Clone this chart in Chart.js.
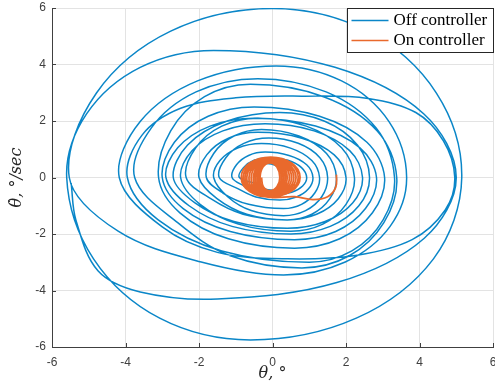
<!DOCTYPE html>
<html>
<head>
<meta charset="utf-8">
<script src="https://cdn.jsdelivr.net/npm/chart.js@4"></script>
<style>
  html, body { margin: 0; padding: 0; background: #fff; }
  #phase { display: block; }
</style>
</head>
<body>
<canvas id="phase" width="495" height="390"></canvas>
<script>
// Axis ticks
const thetaTicks = [-6, -4, -2, 0, 2, 4, 6];
const rateTicks = [-6, -4, -2, 0, 2, 4, 6];

// Off controller trajectory (theta in deg, theta-dot in deg/sec), one loop per line,
// spiralling outwards from the centre
const offTheta = [
  -0.5, -0.45, -0.33, -0.15, 0.08, 0.24, 0.3, 0.26, 0.15, 0.0, -0.25, -0.43,
  -0.9, -0.79, -0.5, -0.1, 0.42, 0.79, 0.93, 0.82, 0.52, 0.1, -0.4, -0.77,
  -1.1, -0.98, -0.65, -0.2, 0.45, 0.93, 1.1, 0.98, 0.65, 0.2, -0.45, -0.93,
  -1.45, -1.27, -0.78, -0.1, 0.7, 1.29, 1.5, 1.34, 0.9, 0.3, -0.58, -1.22,
  -1.6, -1.43, -0.95, -0.3, 0.49, 1.07, 1.28, 1.15, 0.79, 0.3, -0.65, -1.35,
  -1.8, -1.6, -1.05, -0.3, 0.72, 1.47, 1.74, 1.56, 1.07, 0.4, -0.7, -1.51,
  -2.0, -1.79, -1.2, -0.4, 0.8, 1.68, 2.0, 1.79, 1.2, 0.4, -0.8, -1.68,
  -2.35, -2.09, -1.38, -0.4, 0.92, 1.88, 2.23, 2.0, 1.37, 0.5, -0.93, -1.97,
  -2.5, -2.19, -1.35, -0.2, 1.13, 2.1, 2.45, 2.18, 1.43, 0.4, -1.05, -2.11,
  -2.7, -2.31, -1.25, 0.2, 1.42, 2.31, 2.64, 2.35, 1.57, 0.5, -1.1, -2.27,
  -2.9, -2.58, -1.7, -0.5, 1.17, 2.38, 2.83, 2.53, 1.72, 0.6, -1.15, -2.43,
  -3.0, -2.67, -1.75, -0.5, 1.28, 2.57, 3.05, 2.72, 1.83, 0.6, -1.2, -2.52,
  -3.1, -2.77, -1.85, -0.6, 1.39, 2.85, 3.38, 3.03, 2.09, 0.8, -1.15, -2.58,
  -3.75, -3.3, -2.08, -0.4, 1.46, 2.82, 3.32, 3.01, 2.16, 1.0, -1.38, -3.11,
  -3.95, -3.55, -2.5, -1.0, 0.8, 2.6, 3.9, 4.65, 4.96, 4.7, 3.8, 2.3, 0.4, -1.5, -3.0,
  -4.17, -3.6, -2.04, 0.1, 1.88, 3.17, 3.65, 3.2, 1.98, 0.3, -1.94, -4.2,
  -5.53, -4.79, -2.77, 0.0, 2.58, 4.46, 5.15, 4.38, 2.28, -0.6, -3.07, -4.87,
  -5.6, -5.06, -3.6, -1.6, 1.7, 4.12, 5.0, 4.13, 1.75, -1.5, -3.6, -4.75, -5.35, -5.48
];
const offRate = [
  0, 0.25, 0.43, 0.5, 0.43, 0.25, 0, -0.23, -0.39, -0.45, -0.39, -0.23,
  0, 0.35, 0.61, 0.7, 0.61, 0.35, 0, -0.3, -0.52, -0.6, -0.52, -0.3,
  0, 0.45, 0.78, 0.9, 0.78, 0.45, 0, -0.4, -0.69, -0.8, -0.69, -0.4,
  0, 0.7, 1.21, 1.4, 1.21, 0.7, 0, -0.68, -1.17, -1.35, -1.17, -0.68,
  0, 0.6, 1.04, 1.2, 1.04, 0.6, 0, -0.55, -0.95, -1.1, -0.95, -0.55,
  0, 0.85, 1.47, 1.7, 1.47, 0.85, 0, -0.75, -1.3, -1.5, -1.3, -0.75,
  0, 0.8, 1.39, 1.6, 1.39, 0.8, 0, -0.75, -1.3, -1.5, -1.3, -0.75,
  0, 1.05, 1.82, 2.1, 1.82, 1.05, 0, -0.95, -1.65, -1.9, -1.65, -0.95,
  0, 0.95, 1.65, 1.9, 1.65, 0.95, 0, -0.9, -1.56, -1.8, -1.56, -0.9,
  0, 1.15, 1.99, 2.3, 1.99, 1.15, 0, -1.0, -1.73, -2.0, -1.73, -1.0,
  0, 1.05, 1.82, 2.1, 1.82, 1.05, 0, -1.1, -1.91, -2.2, -1.91, -1.1,
  0, 1.25, 2.17, 2.5, 2.17, 1.25, 0, -1.25, -2.17, -2.5, -2.17, -1.25,
  0, 1.65, 2.86, 3.3, 2.86, 1.65, 0, -1.6, -2.77, -3.2, -2.77, -1.6,
  0, 1.75, 3.03, 3.5, 3.03, 1.75, 0, -1.5, -2.6, -3.0, -2.6, -1.5,
  0, 1.5, 2.45, 2.82, 2.88, 2.8, 2.3, 1.3, 0, -1.15, -2.2, -2.75, -2.88, -2.65, -1.75,
  0, 1.98, 3.42, 3.95, 3.42, 1.98, 0, -1.73, -2.99, -3.45, -2.99, -1.9,
  0, 2.99, 5.18, 5.98, 5.18, 2.99, 0, -2.88, -4.98, -5.75, -4.98, -2.88,
  0, 2.25, 3.9, 4.5, 3.9, 2.25, 0, -2.15, -3.72, -4.3, -4.05, -3.3, -1.5, -0.2
];

// On controller trajectory: short tail, then a tight decaying spiral
const onTheta = [
  1.74, 1.72, 1.5, 1.1, 0.6, -0.05, -0.62,
  -0.85, -0.62, -0.05, 0.52, 0.75, 0.52, -0.05, -0.62,
  -0.8, -0.58, -0.05, 0.48, 0.7, 0.48, -0.05, -0.58,
  -0.75, -0.55, -0.06, 0.43, 0.64, 0.43, -0.06, -0.55,
  -0.7, -0.51, -0.06, 0.39, 0.58, 0.39, -0.06, -0.51,
  -0.64, -0.47, -0.06, 0.35, 0.52, 0.35, -0.06, -0.47,
  -0.58, -0.43, -0.06, 0.31, 0.46, 0.31, -0.06, -0.43,
  -0.52, -0.39, -0.06, 0.27, 0.4, 0.27, -0.06, -0.39,
  -0.47, -0.35, -0.06, 0.23, 0.35, 0.23, -0.06, -0.35,
  -0.42, -0.31, -0.06, 0.19, 0.3, 0.19, -0.06, -0.31,
  -0.38, -0.29, -0.07, 0.16, 0.25, 0.16, -0.07, -0.29,
  -0.34, -0.26, -0.07, 0.12, 0.2, 0.12, -0.07, -0.25, -0.3
];
const onRate = [
  0.1, -0.35, -0.68, -0.78, -0.68, -0.7, -0.5,
  0, 0.51, 0.72, 0.51, 0, -0.48, -0.68, -0.48,
  0, 0.5, 0.7, 0.5, 0, -0.47, -0.66, -0.47,
  0, 0.48, 0.68, 0.48, 0, -0.45, -0.64, -0.45,
  0, 0.47, 0.66, 0.47, 0, -0.44, -0.62, -0.44,
  0, 0.45, 0.64, 0.45, 0, -0.42, -0.6, -0.42,
  0, 0.44, 0.62, 0.44, 0, -0.41, -0.58, -0.41,
  0, 0.42, 0.6, 0.42, 0, -0.4, -0.56, -0.4,
  0, 0.41, 0.58, 0.41, 0, -0.38, -0.54, -0.38,
  0, 0.4, 0.56, 0.4, 0, -0.37, -0.52, -0.37,
  0, 0.39, 0.55, 0.39, 0, -0.35, -0.5, -0.35,
  0, 0.37, 0.52, 0.37, 0, -0.33, -0.47, -0.33, 0
];

const seriesNames = ["Off controller", "On controller"];
const offColor = "#0a86c8";
const onColor = "#e9692c";
const axisColor = "#404040";
const gridColor = "#e3e3e3";

function toPoints(xs, ys) {
  return xs.map(function (v, i) {
    return { x: v, y: ys[i] };
  });
}

// Inward tick marks and a boxed legend in the top right corner
const framePlugin = {
  id: "frame",
  afterDraw(chart) {
    const ctx = chart.ctx;
    const area = chart.chartArea;
    const xs = chart.scales.x;
    const ys = chart.scales.y;
    ctx.save();
    ctx.strokeStyle = axisColor;
    ctx.lineWidth = 1;
    ctx.beginPath();
    thetaTicks.forEach(function (t) {
      const px = Math.round(xs.getPixelForValue(t)) + 0.5;
      ctx.moveTo(px, area.bottom);
      ctx.lineTo(px, area.bottom - 4);
    });
    rateTicks.forEach(function (t) {
      const py = Math.round(ys.getPixelForValue(t)) + 0.5;
      ctx.moveTo(area.left, py);
      ctx.lineTo(area.left + 4, py);
    });
    ctx.stroke();

    const boxW = 146;
    const boxH = 44;
    const bx = Math.round(area.right - boxW) + 0.5;
    const by = Math.round(area.top) + 0.5;
    ctx.fillStyle = "#ffffff";
    ctx.fillRect(bx, by, boxW, boxH);
    ctx.strokeStyle = "#262626";
    ctx.strokeRect(bx, by, boxW, boxH);

    const colors = [offColor, onColor];
    ctx.font = "17px 'Liberation Serif', 'DejaVu Serif', serif";
    ctx.textBaseline = "middle";
    seriesNames.forEach(function (name, i) {
      const ly = by + 12 + i * 20;
      ctx.strokeStyle = colors[i];
      ctx.lineWidth = 1.5;
      ctx.beginPath();
      ctx.moveTo(bx + 4, ly);
      ctx.lineTo(bx + 41, ly);
      ctx.stroke();
      ctx.fillStyle = "#000000";
      ctx.fillText(name, bx + 46, ly);
    });
    ctx.restore();
  },
};

const tickFont = { family: "'Liberation Sans', Arial, sans-serif", size: 12 };
const titleFont = { family: "'DejaVu Serif', 'Liberation Serif', serif", size: 16, style: "italic" };

new Chart(document.getElementById("phase"), {
  type: "scatter",
  data: {
    datasets: [
      {
        label: seriesNames[1],
        data: toPoints(onTheta, onRate),
        showLine: true,
        borderColor: onColor,
        borderWidth: 1.8,
        pointRadius: 0,
        tension: 0.4,
      },
      {
        label: seriesNames[0],
        data: toPoints(offTheta, offRate),
        showLine: true,
        borderColor: offColor,
        borderWidth: 1.5,
        pointRadius: 0,
        tension: 0.35,
      },
    ],
  },
  options: {
    responsive: false,
    animation: false,
    devicePixelRatio: 1,
    layout: { padding: { left: 0, right: 2, top: 8, bottom: 0 } },
    plugins: {
      legend: { display: false },
      tooltip: { enabled: false },
    },
    scales: {
      x: {
        type: "linear",
        min: -6,
        max: 6,
        afterBuildTicks: function (scale) {
          scale.ticks = thetaTicks.map(function (v) { return { value: v }; });
        },
        afterFit: function (scale) {
          scale.height = 43;
          scale.paddingLeft = 0;
          scale.paddingRight = 0;
        },
        ticks: { color: axisColor, font: tickFont, padding: 8, maxRotation: 0 },
        grid: { color: gridColor, drawTicks: false },
        border: { color: axisColor, width: 1 },
        title: {
          display: true,
          text: "θ, °",
          color: "#262626",
          font: titleFont,
          padding: { top: 0, bottom: 7 },
        },
      },
      y: {
        type: "linear",
        min: -6,
        max: 6,
        afterBuildTicks: function (scale) {
          scale.ticks = rateTicks.map(function (v) { return { value: v }; });
        },
        afterFit: function (scale) {
          scale.width = 52;
          scale.paddingTop = 0;
          scale.paddingBottom = 0;
        },
        ticks: { color: axisColor, font: tickFont, padding: 6 },
        grid: { color: gridColor, drawTicks: false },
        border: { color: axisColor, width: 1 },
        title: {
          display: true,
          text: "θ̇, °/sec",
          color: "#262626",
          font: titleFont,
          padding: { top: 7, bottom: 0 },
        },
      },
    },
  },
  plugins: [framePlugin],
});
</script>
</body>
</html>
